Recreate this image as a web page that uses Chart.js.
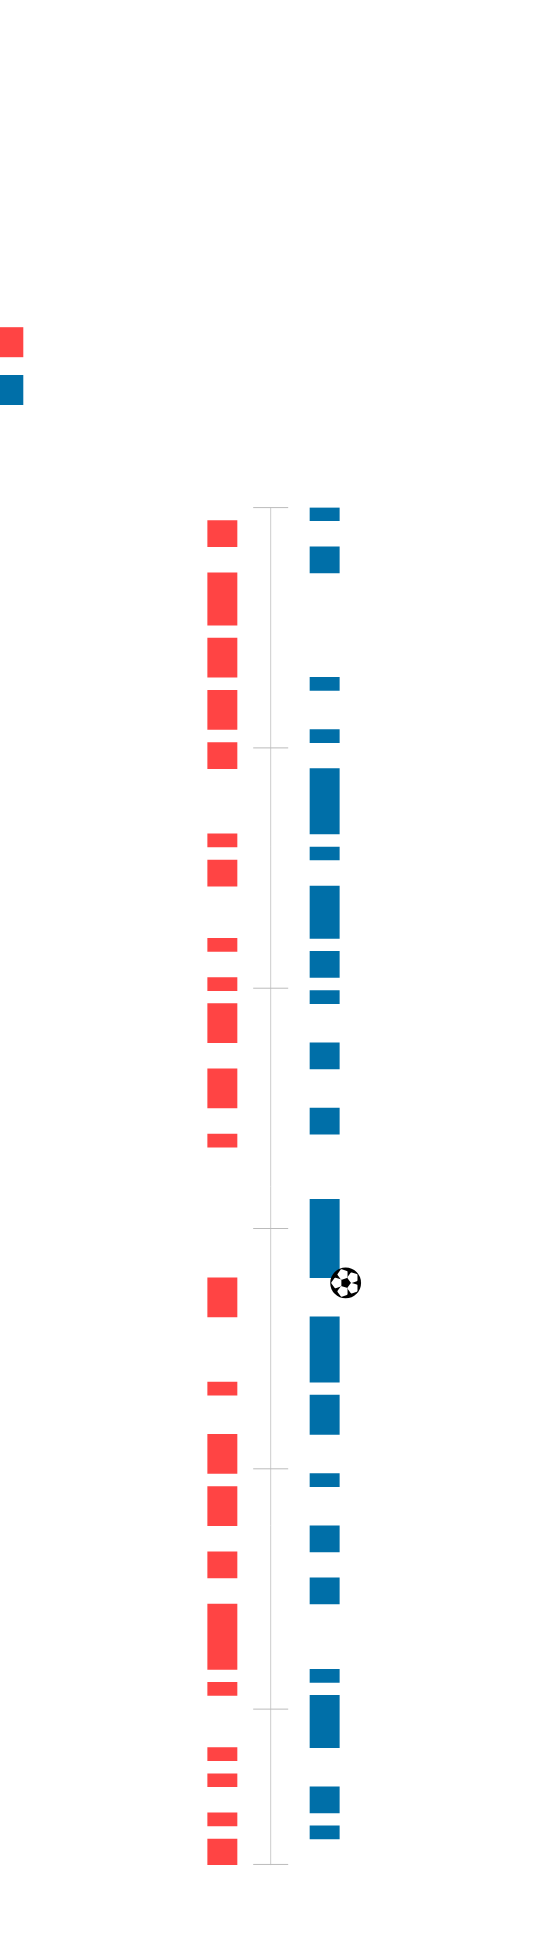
<!DOCTYPE html>
<html>
<head>
<meta charset="utf-8">
<style>
html,body{margin:0;padding:0;background:#fff;}
#wrap{position:relative;width:560px;height:1934px;}
canvas{display:block;}
</style>
<script src="https://cdn.jsdelivr.net/npm/chart.js@4"></script>
</head>
<body>
<div id="wrap"><canvas id="c" width="560" height="1934"></canvas></div>
<script>
const categories = ['red', 'blue'];
const redStarts  = [1,5,10,14,18,25,27,33,36,38,43,48,59,67,71,75,80,84,90,95,97,100,102];
const redLengths = [2,4,3,3,2,1,2,1,1,3,3,1,3,1,3,3,2,5,1,1,1,1,2];
const blueStarts  = [0,3,13,17,20,26,29,34,37,41,46,53,62,68,74,78,82,89,91,98,101];
const blueLengths = [1,2,1,1,5,1,4,2,1,2,2,6,5,3,1,2,2,1,4,2,1];
const tickValues = [0,18.41,36.82,55.23,73.64,92.05,103.95];
const ballValue = 59.4;
const redColor = '#ff4444';
const blueColor = '#006fa8';

function toBars(label, starts, lengths) {
  return starts.map((s, i) => ({ x: label, y: [s, s + lengths[i]] }));
}

function polygon(ctx, cx, cy, r, n, rot) {
  ctx.beginPath();
  for (let i = 0; i < n; i++) {
    const a = rot + i * 2 * Math.PI / n;
    const px = cx + r * Math.cos(a), py = cy + r * Math.sin(a);
    if (i === 0) ctx.moveTo(px, py); else ctx.lineTo(px, py);
  }
  ctx.closePath();
}

function drawBall(ctx, cx, cy) {
  const R = 15.4;
  ctx.fillStyle = '#000';
  ctx.beginPath();
  ctx.arc(cx, cy, R, 0, 2 * Math.PI);
  ctx.fill();
  ctx.fillStyle = '#fff';
  ctx.strokeStyle = '#fff';
  ctx.lineJoin = 'round';
  ctx.lineWidth = 2;
  for (let i = 0; i < 5; i++) {
    const a = Math.PI + i * 2 * Math.PI / 5;
    polygon(ctx, cx + 8.9 * Math.cos(a), cy + 8.9 * Math.sin(a), 4.5, 5, a);
    ctx.fill();
    ctx.stroke();
  }
}

const decor = {
  id: 'decor',
  afterDatasetsDraw(chart) {
    const { ctx, scales: { x, y } } = chart;
    ctx.save();
    // legend swatches
    ctx.fillStyle = redColor;
    ctx.fillRect(-7, 327.2, 30.3, 30);
    ctx.fillStyle = blueColor;
    ctx.fillRect(-7, 375, 30.3, 30);
    // central axis
    const cx = 270.7;
    ctx.strokeStyle = '#cccccc';
    ctx.lineWidth = 1;
    ctx.beginPath();
    ctx.moveTo(cx, y.getPixelForValue(0));
    ctx.lineTo(cx, y.getPixelForValue(104));
    ctx.stroke();
    ctx.strokeStyle = '#bbbbbb';
    tickValues.forEach(v => {
      const py = y.getPixelForValue(v);
      ctx.beginPath();
      ctx.moveTo(cx - 17.5, py);
      ctx.lineTo(cx + 17.5, py);
      ctx.stroke();
    });
    // ball
    drawBall(ctx, x.getPixelForValue('blue') + 21, y.getPixelForValue(ballValue));
    ctx.restore();
  }
};

new Chart(document.getElementById('c'), {
  type: 'bar',
  data: {
    labels: categories,
    datasets: [
      { label: 'red', data: toBars('red', redStarts, redLengths), backgroundColor: redColor, borderWidth: 0, borderSkipped: false, barThickness: 29.3, grouped: false },
      { label: 'blue', data: toBars('blue', blueStarts, blueLengths), backgroundColor: blueColor, borderWidth: 0, borderSkipped: false, barThickness: 29.3, grouped: false }
    ]
  },
  options: {
    responsive: false,
    animation: false,
    layout: { padding: { left: 171.2, right: 184.2, top: 507.6, bottom: 68.9 } },
    plugins: { legend: { display: false }, tooltip: { enabled: false } },
    scales: {
      x: { type: 'category', display: false, offset: true, grid: { display: false } },
      y: { type: 'linear', display: false, reverse: true, min: 0, max: 104, grid: { display: false } }
    }
  },
  plugins: [decor]
});
</script>
</body>
</html>
